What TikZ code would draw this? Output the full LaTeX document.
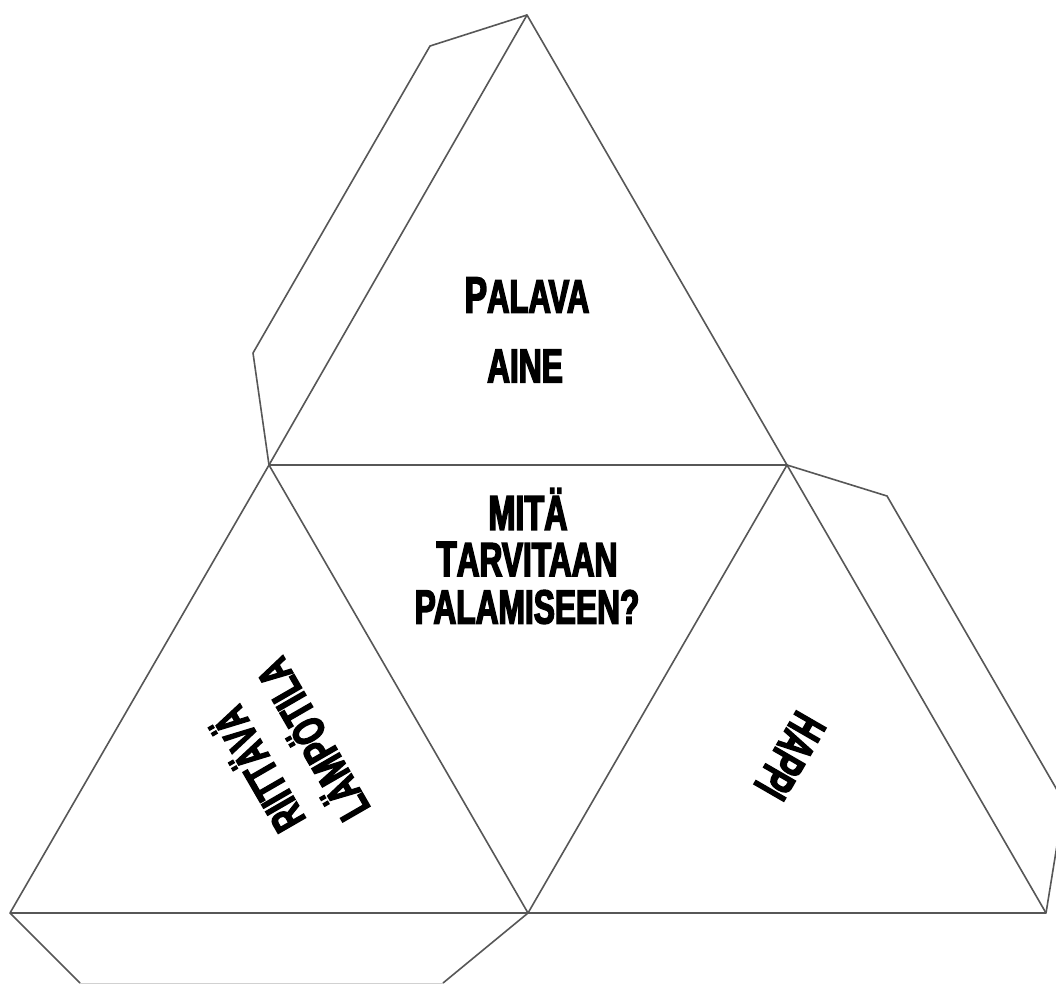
\documentclass[tikz,border=0pt]{standalone}
\usepackage{fontspec}
\setmainfont{Liberation Sans}[FakeStretch=0.66,BoldFont={Liberation Sans Bold},BoldFeatures={FakeStretch=0.66,FakeBold=3}]
\newcommand{\lbl}[2]{{\fontsize{#1}{#1}\selectfont #2}}
\tikzset{
  foldline/.style={draw=black!66,line width=1.6pt,line join=round},
  faintline/.style={draw=black!18,line width=0.8pt},
  word/.style={font=\bfseries,inner sep=0pt,text=black,anchor=center},
}
\begin{document}
\begin{tikzpicture}[x=1pt,y=-1pt]
\useasboundingbox (0,0) rectangle (1056,983);
\clip (0,0) rectangle (1056,983);
\fill[white] (0,0) rectangle (1056,983);
\coordinate (T) at (527,15);
\coordinate (L) at (269,465);
\coordinate (R) at (787,465);
\coordinate (BL) at (10,913);
\coordinate (BM) at (528,913);
\coordinate (BR) at (1046,913);
\coordinate (fa) at (430,46);
\coordinate (fb) at (253,353);
\coordinate (fc) at (887,496);
\coordinate (fd) at (1064,802);
\coordinate (fe) at (80,983);
\coordinate (ff) at (443,983);
\draw[foldline] (T) -- (L) -- (R) -- cycle;
\draw[foldline] (L) -- (BL) -- (BM) -- cycle;
\draw[foldline] (R) -- (BM) -- (BR) -- cycle;
\draw[foldline] (T) -- (fa) -- (fb) -- (L);
\draw[foldline] (R) -- (fc) -- (fd) -- (BR);
\draw[foldline] (BL) -- (fe);
\draw[foldline] (BM) -- (ff);
\draw[faintline] (fe) -- (ff);
\node[word] (palava) at (527,295) {\lbl{51}{P}\lbl{47}{ALAVA}};
\node[word] (aine) at (525,366) {\lbl{48}{AINE}};
\node[word] (mita) at (528,509) {\lbl{49}{MITÄ}};
\node[word] (tarvitaan) at (527,559) {\lbl{50}{T}\lbl{48}{ARVITAAN}};
\node[word] (palamiseen) at (527,607) {\lbl{48}{PALAMISEEN?}};
\node[word,rotate=120] (riittava) at (256,771) {\scalebox{.96}[1]{\lbl{46}{RIITTÄVÄ}}};
\node[word,rotate=120] (lampotila) at (310,741) {\lbl{46}{LÄMPÖTILA}};
\node[word,rotate=240] (happi) at (790,756) {\scalebox{.88}[1]{\lbl{50}{HAPPI}}};
\end{tikzpicture}
\end{document}
